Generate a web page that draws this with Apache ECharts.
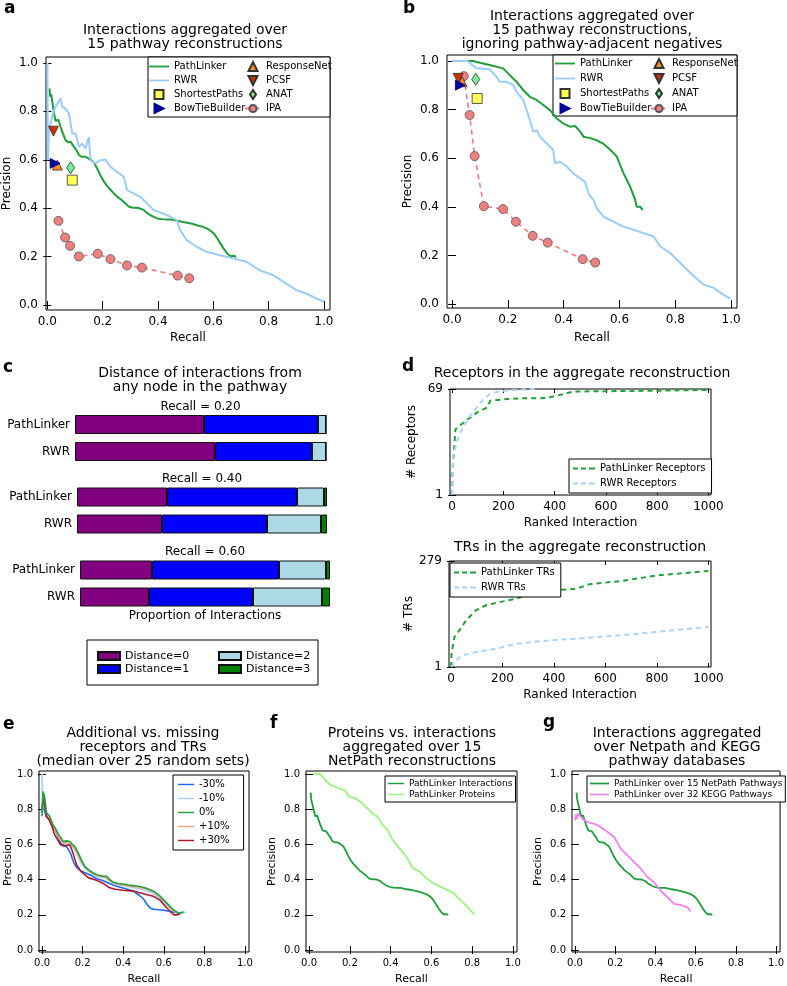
<!DOCTYPE html>
<html>
<head>
<meta charset="utf-8">
<script src="https://cdn.jsdelivr.net/npm/echarts@6.0.0/dist/echarts.min.js"></script>
<style>
    html, body { margin: 0; padding: 0; background: #fff; }
    #main { width: 787px; height: 986px; }
</style>
</head>
<body>
<div id="main"></div>
<script>
// ---- panel a : recall / precision pairs ----
var plInteractions = [[0.008,0.894],[0.010,0.86],[0.014,0.87],[0.024,0.79],[0.03,0.76],[0.040,0.765],[0.048,0.735],[0.054,0.715],[0.060,0.72],[0.066,0.68],[0.075,0.672],[0.084,0.674],[0.096,0.653],[0.105,0.64],[0.114,0.619],[0.125,0.612],[0.138,0.612],[0.148,0.606],[0.156,0.601],[0.168,0.59],[0.18,0.564],[0.192,0.535],[0.205,0.509],[0.217,0.49],[0.229,0.475],[0.241,0.46],[0.253,0.447],[0.265,0.437],[0.277,0.426],[0.295,0.406],[0.31,0.402],[0.325,0.402],[0.337,0.398],[0.349,0.392],[0.361,0.38],[0.373,0.371],[0.385,0.364],[0.397,0.358],[0.415,0.355],[0.433,0.353],[0.45,0.353],[0.469,0.348],[0.487,0.344],[0.505,0.34],[0.523,0.336],[0.541,0.33],[0.56,0.324],[0.578,0.316],[0.59,0.307],[0.602,0.296],[0.614,0.276],[0.626,0.254],[0.638,0.232],[0.65,0.213],[0.662,0.202],[0.672,0.204],[0.683,0.2]];
var rwrA = [[0,1.0],[0.002,0.6],[0.006,0.72],[0.012,0.75],[0.018,0.784],[0.024,0.805],[0.036,0.832],[0.048,0.853],[0.054,0.818],[0.066,0.811],[0.072,0.818],[0.078,0.79],[0.084,0.784],[0.090,0.708],[0.102,0.708],[0.114,0.653],[0.126,0.667],[0.138,0.646],[0.150,0.694],[0.156,0.598],[0.174,0.585],[0.192,0.598],[0.21,0.601],[0.228,0.571],[0.252,0.55],[0.276,0.53],[0.288,0.475],[0.312,0.461],[0.336,0.447],[0.36,0.42],[0.384,0.392],[0.42,0.378],[0.444,0.365],[0.468,0.351],[0.48,0.31],[0.504,0.268],[0.54,0.241],[0.576,0.22],[0.624,0.206],[0.672,0.193],[0.72,0.179],[0.768,0.144],[0.816,0.124],[0.864,0.089],[0.9,0.062],[0.936,0.048],[0.972,0.028],[1.0,0.014]];
var responseNetA = [[0.036,0.578]];
var pcsfA = [[0.022,0.718]];
var shortestA = [[0.09,0.516]];
var anatA = [[0.084,0.567]];
var bowtieA = [[0.028,0.585]];
var ipaA = [[0.04,0.348],[0.064,0.279],[0.082,0.245],[0.114,0.201],[0.182,0.212],[0.228,0.19],[0.288,0.164],[0.342,0.155],[0.471,0.122],[0.513,0.111]];

// ---- panel b ----
var plB = [[0,1.0],[0.075,1.0],[0.1,0.993],[0.135,0.984],[0.183,0.97],[0.207,0.942],[0.231,0.915],[0.255,0.881],[0.279,0.853],[0.303,0.84],[0.327,0.819],[0.351,0.798],[0.375,0.764],[0.399,0.743],[0.423,0.73],[0.441,0.733],[0.459,0.71],[0.471,0.689],[0.495,0.683],[0.519,0.674],[0.543,0.659],[0.567,0.635],[0.59,0.608],[0.614,0.539],[0.638,0.484],[0.656,0.429],[0.662,0.401],[0.674,0.401],[0.683,0.387]];
var rwrB = [[0,1.0],[0.055,1.0],[0.063,0.993],[0.087,0.97],[0.135,0.966],[0.159,0.936],[0.171,0.915],[0.195,0.915],[0.219,0.901],[0.231,0.874],[0.255,0.84],[0.279,0.757],[0.291,0.709],[0.303,0.716],[0.315,0.689],[0.339,0.661],[0.363,0.634],[0.369,0.579],[0.387,0.586],[0.411,0.566],[0.435,0.538],[0.459,0.517],[0.477,0.503],[0.489,0.455],[0.507,0.428],[0.519,0.394],[0.543,0.36],[0.578,0.339],[0.614,0.319],[0.65,0.306],[0.686,0.292],[0.722,0.278],[0.746,0.237],[0.782,0.21],[0.818,0.169],[0.854,0.128],[0.902,0.08],[0.938,0.066],[0.974,0.037],[0.998,0.023]];
var responseNetB = [[0.036,0.915]];
var pcsfB = [[0.022,0.929]];
var shortestB = [[0.09,0.846]];
var anatB = [[0.085,0.925]];
var bowtieB = [[0.03,0.901]];
var ipaB = [[0.042,0.938],[0.063,0.778],[0.081,0.609],[0.114,0.403],[0.183,0.391],[0.229,0.339],[0.289,0.281],[0.343,0.253],[0.468,0.185],[0.513,0.171]];

// ---- panel c : proportion of interactions per distance ----
var recallLabels = ['Recall = 0.20', 'Recall = 0.40', 'Recall = 0.60'];
var methods = ['PathLinker', 'RWR'];
var distNames = ['Distance=0', 'Distance=1', 'Distance=2', 'Distance=3'];
var plDist0 = [0.514, 0.36, 0.288];
var plDist1 = [0.454, 0.52, 0.508];
var plDist2 = [0.032, 0.108, 0.188];
var plDist3 = [0, 0.012, 0.016];
var rwrDist0 = [0.558, 0.34, 0.276];
var rwrDist1 = [0.386, 0.42, 0.416];
var rwrDist2 = [0.056, 0.216, 0.276];
var rwrDist3 = [0, 0.024, 0.032];

// ---- panel d : ranked interaction / count ----
var recPL = [[0,1],[1,12.9],[4,21.5],[13,43],[26,45],[45,47.4],[71,50.7],[97,53.9],[136,57],[149,61.5],[214,62.6],[278,63],[369,63.2],[408,64.7],[473,67.3],[537,67.5],[667,67.7],[797,67.9],[1000,68.4]];
var recRWR = [[0,1],[2,12],[4,25.8],[13,32],[26,38.8],[45,45.3],[71,51.8],[97,57.2],[123,62.6],[149,65.8],[188,67.7],[278,68.6],[330,69]];
var trPL = [[0,1],[2,36],[13,80],[32,97],[58,123],[97,150],[136,163],[188,171],[253,180],[304,191],[382,202],[486,206],[538,218],[667,227],[797,241],[887,246],[1000,253]];
var trRWR = [[0,1],[19,18.5],[45,31.6],[97,40],[175,49],[253,62],[382,71],[486,75],[589,81],[693,86],[797,93],[1000,106]];
var recTicksY = [1, 69];
var trTicksY = [1, 279];
var rankTicks = [0, 200, 400, 600, 800, 1000];

// ---- panel e ----
var eMinus30 = [[0,0.78],[0.004,0.86],[0.01,0.8],[0.02,0.76],[0.035,0.74],[0.05,0.7],[0.065,0.68],[0.08,0.64],[0.095,0.6],[0.11,0.6],[0.125,0.58],[0.14,0.55],[0.155,0.5],[0.17,0.47],[0.19,0.45],[0.21,0.44],[0.24,0.425],[0.27,0.405],[0.3,0.395],[0.33,0.38],[0.36,0.365],[0.39,0.355],[0.42,0.345],[0.45,0.335],[0.48,0.31],[0.5,0.29],[0.52,0.255],[0.535,0.238],[0.55,0.232],[0.6,0.226],[0.64,0.218],[0.67,0.21],[0.7,0.215]];
var eMinus10 = [[0,1.0],[0.002,0.78],[0.008,0.88],[0.015,0.84],[0.025,0.77],[0.04,0.75],[0.055,0.70],[0.07,0.68],[0.085,0.65],[0.1,0.61],[0.12,0.60],[0.14,0.6],[0.155,0.58],[0.17,0.55],[0.185,0.51],[0.2,0.48],[0.22,0.455],[0.25,0.43],[0.28,0.415],[0.31,0.41],[0.34,0.39],[0.37,0.372],[0.4,0.365],[0.43,0.36],[0.46,0.352],[0.49,0.345],[0.52,0.335],[0.55,0.32],[0.58,0.295],[0.61,0.262],[0.64,0.228],[0.67,0.212],[0.7,0.212],[0.71,0.218]];
var eZero = [[0,0.76],[0.005,0.9],[0.013,0.87],[0.021,0.78],[0.03,0.77],[0.038,0.76],[0.054,0.71],[0.066,0.69],[0.079,0.66],[0.092,0.64],[0.104,0.617],[0.12,0.62],[0.137,0.617],[0.15,0.6],[0.161,0.589],[0.175,0.56],[0.186,0.532],[0.2,0.5],[0.21,0.475],[0.23,0.455],[0.252,0.438],[0.27,0.428],[0.285,0.423],[0.3,0.42],[0.318,0.419],[0.335,0.4],[0.35,0.385],[0.375,0.378],[0.4,0.375],[0.425,0.37],[0.449,0.366],[0.475,0.362],[0.498,0.357],[0.52,0.348],[0.548,0.336],[0.565,0.322],[0.581,0.306],[0.6,0.285],[0.614,0.268],[0.63,0.248],[0.646,0.23],[0.665,0.215],[0.68,0.21],[0.696,0.215]];
var ePlus10 = [[0,0.8],[0.005,0.88],[0.012,0.85],[0.022,0.77],[0.035,0.75],[0.05,0.71],[0.065,0.68],[0.08,0.645],[0.1,0.61],[0.12,0.61],[0.14,0.605],[0.16,0.58],[0.18,0.535],[0.2,0.49],[0.22,0.46],[0.25,0.435],[0.28,0.42],[0.31,0.415],[0.34,0.39],[0.37,0.375],[0.4,0.37],[0.44,0.362],[0.48,0.355],[0.52,0.345],[0.55,0.33],[0.58,0.305],[0.61,0.27],[0.64,0.232],[0.66,0.215],[0.68,0.21]];
var ePlus30 = [[0,0.8],[0.005,0.86],[0.012,0.83],[0.022,0.76],[0.035,0.74],[0.05,0.70],[0.06,0.66],[0.075,0.63],[0.09,0.6],[0.11,0.59],[0.137,0.598],[0.15,0.56],[0.17,0.485],[0.19,0.45],[0.2,0.438],[0.23,0.41],[0.268,0.396],[0.3,0.38],[0.33,0.355],[0.36,0.345],[0.4,0.34],[0.45,0.335],[0.5,0.32],[0.548,0.306],[0.58,0.285],[0.614,0.24],[0.635,0.215],[0.65,0.2],[0.665,0.2],[0.68,0.205]];

// ---- panel f ----
var plProteins = [[0.021,1.0],[0.055,1.0],[0.079,0.966],[0.104,0.938],[0.145,0.919],[0.179,0.906],[0.195,0.872],[0.228,0.862],[0.261,0.834],[0.294,0.796],[0.319,0.768],[0.336,0.758],[0.36,0.711],[0.385,0.683],[0.41,0.626],[0.443,0.579],[0.476,0.532],[0.509,0.466],[0.542,0.447],[0.575,0.409],[0.608,0.381],[0.641,0.362],[0.674,0.343],[0.707,0.325],[0.74,0.287],[0.773,0.249],[0.81,0.202]];

// ---- panel g ----
var plKegg = [[0,0.736],[0.005,0.77],[0.01,0.745],[0.015,0.775],[0.021,0.774],[0.038,0.745],[0.063,0.726],[0.096,0.717],[0.129,0.698],[0.162,0.67],[0.195,0.642],[0.228,0.575],[0.261,0.538],[0.294,0.5],[0.327,0.462],[0.36,0.415],[0.393,0.385],[0.426,0.338],[0.46,0.3],[0.493,0.262],[0.526,0.256],[0.559,0.243],[0.575,0.219]];

var unitTicks = [0, 0.2, 0.4, 0.6, 0.8, 1.0];

var FONT = 'DejaVu Sans';
var grid = [], xAxis = [], yAxis = [], series = [], legend = [], graphic = [];

function tick(vals) {
    return { show: true, inside: true, length: 4, customValues: vals, lineStyle: { color: '#000', width: 1 } };
}
function fix1(v) { return v.toFixed(1); }
function int0(v) { return String(Math.round(v)); }

// one framed plot with ticks on all four sides
function panel(rect, xr, yr, xt, yt, o) {
    var gi = grid.length;
    grid.push({ left: rect[0], top: rect[1], width: rect[2], height: rect[3], show: true, borderColor: '#000', borderWidth: 1 });
    var xi = xAxis.length, yi = yAxis.length;
    var nameStyle = { fontFamily: FONT, fontSize: o.nameFs || 12, color: '#000' };
    xAxis.push({ type: 'value', gridIndex: gi, min: xr[0], max: xr[1], position: 'bottom',
        axisLine: { show: false }, splitLine: { show: false }, axisTick: tick(xt),
        axisLabel: { customValues: xt, formatter: o.xf, fontFamily: FONT, fontSize: o.fs, color: '#000', margin: o.xm },
        name: o.xName, nameLocation: 'middle', nameGap: o.xGap, nameTextStyle: nameStyle });
    xAxis.push({ type: 'value', gridIndex: gi, min: xr[0], max: xr[1], position: 'top',
        axisLine: { show: false }, splitLine: { show: false }, axisTick: tick(xt), axisLabel: { show: false } });
    yAxis.push({ type: 'value', gridIndex: gi, min: yr[0], max: yr[1], position: 'left',
        axisLine: { show: false }, splitLine: { show: false }, axisTick: tick(yt),
        axisLabel: { customValues: yt, formatter: o.yf, fontFamily: FONT, fontSize: o.fs, color: '#000', margin: o.ym },
        name: o.yName, nameLocation: 'middle', nameGap: o.yGap, nameTextStyle: nameStyle });
    yAxis.push({ type: 'value', gridIndex: gi, min: yr[0], max: yr[1], position: 'right',
        axisLine: { show: false }, splitLine: { show: false }, axisTick: tick(yt), axisLabel: { show: false } });
    return { xAxisIndex: xi, yAxisIndex: yi };
}

function line(ax, name, data, color, width, dash) {
    series.push({ type: 'line', name: name, data: data, xAxisIndex: ax.xAxisIndex, yAxisIndex: ax.yAxisIndex,
        symbol: 'none', lineStyle: { color: color, width: width, type: dash || 'solid' }, itemStyle: { color: color } });
}
function mark(ax, name, data, symbol, size, color, border) {
    series.push({ type: 'scatter', name: name, data: data, xAxisIndex: ax.xAxisIndex, yAxisIndex: ax.yAxisIndex,
        symbol: symbol, symbolSize: size, z: 4,
        itemStyle: { color: color, borderColor: border || '#333', borderWidth: 0.8, opacity: 1 } });
}
function ipa(ax, data) {
    series.push({ type: 'line', name: 'IPA', data: data, xAxisIndex: ax.xAxisIndex, yAxisIndex: ax.yAxisIndex,
        symbol: 'circle', symbolSize: 9, showSymbol: true, z: 3,
        lineStyle: { color: '#f27c7c', width: 1.6, type: [5, 4] },
        itemStyle: { color: '#f08080', borderColor: '#555', borderWidth: 0.8 } });
}
function txt(x, y, s, size, bold, align) {
    graphic.push({ type: 'text', x: x, y: y, z: 10,
        style: { text: s, font: (bold ? 'bold ' : '') + size + 'px "DejaVu Sans"', fill: '#000', align: align || 'center', verticalAlign: 'middle' } });
}
function frame(x, y, w, h) {
    graphic.push({ type: 'rect', z: 3, shape: { x: x, y: y, width: w, height: h }, style: { fill: '#fff', stroke: '#000', lineWidth: 1 } });
}
function leg(o) {
    legend.push(Object.assign({ orient: 'vertical', padding: 0, itemGap: 1, itemWidth: 22, itemHeight: 9, selectedMode: false, symbolKeepAspect: true,
        textStyle: { fontFamily: FONT, fontSize: 10, color: '#000', lineHeight: 13 } }, o));
}
// legend entry drawn as a plain (or dashed) stroke
var LINE_ICON = 'path://M0,0h22v2h-22z';
var DASH_ICON = 'path://M0,0h5v2h-5z M8,0h5v2h-5z M16,0h6v2h-6z';
function li(name, icon) { return { name: name, icon: icon || LINE_ICON }; }

var GREEN = '#1f9e3b', SKY = '#99ccff';
var SQUARE = 'path://M0,0h10v10h-10z', UP = 'path://M5,0L10,10L0,10Z', DIAMOND = 'path://M4,0L8,6L4,12L0,6Z';
var DOWN = 'path://M0,0L10,0L5,10Z', RIGHT = 'path://M0,0L10,5L0,10Z';

// ---------- a ----------
var axA = panel([46, 57, 284, 253], [-0.005, 1.022], [-0.02, 1.024], unitTicks, unitTicks,
    { xf: fix1, yf: fix1, fs: 12, xm: 6, ym: 8, xName: 'Recall', xGap: 22, yName: 'Precision', yGap: 33 });
line(axA, 'PathLinker', plInteractions, GREEN, 2);
line(axA, 'RWR', rwrA, SKY, 2);
ipa(axA, ipaA);
mark(axA, 'ShortestPaths', shortestA, SQUARE, 10, '#ffff55');
mark(axA, 'ANAT', anatA, DIAMOND, [8, 12], '#77ee99');
mark(axA, 'ResponseNet', responseNetA, UP, 10, '#ff8c1a');
mark(axA, 'PCSF', pcsfA, DOWN, 10, '#cc3300');
mark(axA, 'BowTieBuilder', bowtieA, RIGHT, 10, '#000099', '#000099');
frame(148, 57, 182, 60);
leg({ left: 149, top: 60, itemWidth: 20, data: [li('PathLinker'), li('RWR'), 'ShortestPaths', 'BowTieBuilder'], z: 5 });
leg({ left: 244, top: 60, itemWidth: 16, data: ['ResponseNet', 'PCSF', 'ANAT', 'IPA'], z: 5 });
txt(4, 9, 'a', 17, true, 'left');
txt(185, 30, 'Interactions aggregated over', 14);
txt(185, 44, '15 pathway reconstructions', 14);

// ---------- b ----------
var axB = panel([447, 55, 290, 253], [-0.018, 1.021], [-0.016, 1.025], unitTicks, unitTicks,
    { xf: fix1, yf: fix1, fs: 12, xm: 6, ym: 8, xName: 'Recall', xGap: 24, yName: 'Precision', yGap: 33 });
line(axB, 'PathLinker', plB, GREEN, 2);
line(axB, 'RWR', rwrB, SKY, 2);
ipa(axB, ipaB);
mark(axB, 'ShortestPaths', shortestB, SQUARE, 10, '#ffff55');
mark(axB, 'ANAT', anatB, DIAMOND, [8, 12], '#77ee99');
mark(axB, 'ResponseNet', responseNetB, UP, 10, '#ff8c1a');
mark(axB, 'PCSF', pcsfB, DOWN, 10, '#cc3300');
mark(axB, 'BowTieBuilder', bowtieB, RIGHT, 10, '#000099', '#000099');
frame(553, 55, 184, 61);
leg({ left: 555, top: 57, itemGap: 2, itemWidth: 20, data: [li('PathLinker'), li('RWR'), 'ShortestPaths', 'BowTieBuilder'], z: 5 });
leg({ left: 650, top: 57, itemGap: 2, itemWidth: 16, data: ['ResponseNet', 'PCSF', 'ANAT', 'IPA'], z: 5 });
txt(403, 9, 'b', 17, true, 'left');
txt(592, 16, 'Interactions aggregated over', 14);
txt(592, 30, '15 pathway reconstructions,', 14);
txt(592, 44, 'ignoring pathway-adjacent negatives', 14);

// ---------- c ----------
var distColors = ['#800080', '#0000ff', '#add8e6', '#008000'];
var plDist = [plDist0, plDist1, plDist2, plDist3];
var rwrDist = [rwrDist0, rwrDist1, rwrDist2, rwrDist3];
var cRects = [[75, 411, 251, 54], [77, 483.5, 250, 54], [80, 556.5, 250, 54]];
var cTitleY = [407, 479, 552];
for (var g = 0; g < 3; g++) {
    var gi = grid.length;
    grid.push({ left: cRects[g][0], top: cRects[g][1], width: cRects[g][2], height: cRects[g][3] });
    var xi = xAxis.length, yi = yAxis.length;
    xAxis.push({ type: 'value', gridIndex: gi, min: 0, max: 1, show: false });
    yAxis.push({ type: 'category', gridIndex: gi, data: methods, inverse: true,
        axisLine: { show: false }, axisTick: { show: false },
        axisLabel: { fontFamily: FONT, fontSize: 12, color: '#000', margin: 5 } });
    for (var d = 0; d < 4; d++) {
        series.push({ type: 'bar', name: distNames[d], xAxisIndex: xi, yAxisIndex: yi, stack: 'c' + g, barWidth: 19,
            data: [plDist[d][g], rwrDist[d][g]],
            itemStyle: { color: distColors[d], borderColor: '#111', borderWidth: 1 } });
    }
    txt(cRects[g][0] + cRects[g][2] / 2, cTitleY[g], recallLabels[g], 12);
}
txt(205, 616, 'Proportion of Interactions', 12);
frame(87, 640, 231, 45);
leg({ left: 97, top: 649.5, icon: 'rect', itemGap: 0, itemHeight: 8, data: ['Distance=0', 'Distance=1'], z: 5,
    textStyle: { fontFamily: FONT, fontSize: 11, color: '#000', lineHeight: 13 } });
leg({ left: 218, top: 649.5, icon: 'rect', itemGap: 0, itemHeight: 8, data: ['Distance=2', 'Distance=3'], z: 5,
    textStyle: { fontFamily: FONT, fontSize: 11, color: '#000', lineHeight: 13 } });
txt(3, 368, 'c', 17, true, 'left');
txt(200, 373, 'Distance of interactions from', 14);
txt(200, 387, 'any node in the pathway', 14);

// ---------- d ----------
var DGREEN = '#22a03a', DSKY = '#a8d4ff';
var axD1 = panel([450, 389, 261, 106], [-8, 1010], [1, 69], rankTicks, recTicksY,
    { xf: int0, yf: int0, fs: 12, xm: 6, ym: 7, xName: 'Ranked Interaction', xGap: 22, yName: '# Receptors', yGap: 32 });
line(axD1, 'PathLinker Receptors', recPL, DGREEN, 2, [5, 4]);
line(axD1, 'RWR Receptors', recRWR, DSKY, 2, [5, 4]);
leg({ left: 569, top: 459, padding: [3, 6, 3, 4], itemGap: 2, backgroundColor: '#fff', borderColor: '#000', borderWidth: 1,
    data: [li('PathLinker Receptors', DASH_ICON), li('RWR Receptors', DASH_ICON)] });
txt(408, 367, 'd', 17, true, 'center');
txt(582, 373, 'Receptors in the aggregate reconstruction', 14);

var axD2 = panel([449, 561, 262, 106], [-8, 1010], [1, 279], rankTicks, trTicksY,
    { xf: int0, yf: int0, fs: 12, xm: 6, ym: 7, xName: 'Ranked Interaction', xGap: 22, yName: '# TRs', yGap: 32 });
line(axD2, 'PathLinker TRs', trPL, DGREEN, 2, [5, 4]);
line(axD2, 'RWR TRs', trRWR, DSKY, 2, [5, 4]);
leg({ left: 450, top: 563, padding: [3, 6, 3, 4], itemGap: 2, backgroundColor: '#fff', borderColor: '#000', borderWidth: 1,
    data: [li('PathLinker TRs', DASH_ICON), li('RWR TRs', DASH_ICON)] });
txt(580, 547, 'TRs in the aggregate reconstruction', 14);

// ---------- e ----------
var smallOpt = { xf: fix1, yf: fix1, fs: 10, xm: 6, ym: 6, xName: 'Recall', xGap: 22, yName: 'Precision', nameFs: 11 };
var axE = panel([39, 771, 210, 182], [-0.015, 1.02], [-0.011, 1.017], unitTicks, unitTicks, Object.assign({}, smallOpt, { yGap: 24 }));
line(axE, '-30%', eMinus30, '#1a6aff', 1.6);
line(axE, '-10%', eMinus10, '#a6d0fa', 1.6);
line(axE, '+10%', ePlus10, '#f4a57f', 1.6);
line(axE, '+30%', ePlus30, '#b2182b', 1.6);
line(axE, '0%', eZero, '#22a03a', 1.6);
leg({ left: 173, top: 775, padding: [3, 14, 3, 5], itemWidth: 16, itemHeight: 8, backgroundColor: '#fff', borderColor: '#000', borderWidth: 1,
    data: [li('-30%'), li('-10%'), li('0%'), li('+10%'), li('+30%')] });
txt(3, 725, 'e', 17, true, 'left');
txt(143, 733, 'Additional vs. missing', 14);
txt(143, 747, 'receptors and TRs', 14);
txt(143, 761, '(median over 25 random sets)', 14);

// ---------- f ----------
var axF = panel([306, 771, 211, 182], [-0.015, 1.02], [-0.011, 1.017], unitTicks, unitTicks, Object.assign({}, smallOpt, { yGap: 28 }));
line(axF, 'PathLinker Interactions', plInteractions, GREEN, 1.8);
line(axF, 'PathLinker Proteins', plProteins, '#99f57d', 1.8);
leg({ left: 385, top: 776, padding: [2, 3, 2, 3], itemGap: 0, itemWidth: 16, itemHeight: 6, backgroundColor: '#fff', borderColor: '#000', borderWidth: 1,
    textStyle: { fontFamily: FONT, fontSize: 9, color: '#000', lineHeight: 11 },
    data: [li('PathLinker Interactions'), li('PathLinker Proteins')] });
txt(270, 724, 'f', 17, true, 'left');
txt(412, 733, 'Proteins vs. interactions', 14);
txt(412, 747, 'aggregated over 15', 14);
txt(412, 761, 'NetPath reconstructions', 14);

// ---------- g ----------
var axG = panel([572, 771, 211, 182], [-0.015, 1.02], [-0.011, 1.017], unitTicks, unitTicks, Object.assign({}, smallOpt, { yGap: 28 }));
line(axG, 'PathLinker over 15 NetPath Pathways', plInteractions, GREEN, 1.8);
line(axG, 'PathLinker over 32 KEGG Pathways', plKegg, '#ee82ee', 1.8);
leg({ left: 587, top: 776, padding: [2, 3, 2, 3], itemGap: 0, itemWidth: 19, itemHeight: 6, backgroundColor: '#fff', borderColor: '#000', borderWidth: 1,
    textStyle: { fontFamily: FONT, fontSize: 9, color: '#000', lineHeight: 11 },
    data: [li('PathLinker over 15 NetPath Pathways'), li('PathLinker over 32 KEGG Pathways')] });
txt(543, 723, 'g', 17, true, 'left');
txt(677, 733, 'Interactions aggregated', 14);
txt(677, 747, 'over Netpath and KEGG', 14);
txt(677, 761, 'pathway databases', 14);

var myChart = echarts.init(document.getElementById('main'), null, { renderer: 'canvas' });
var option = {
    animation: false,
    backgroundColor: '#fff',
    textStyle: { fontFamily: FONT },
    grid: grid,
    xAxis: xAxis,
    yAxis: yAxis,
    legend: legend,
    graphic: graphic,
    series: series
};
option && myChart.setOption(option);
</script>
</body>
</html>
